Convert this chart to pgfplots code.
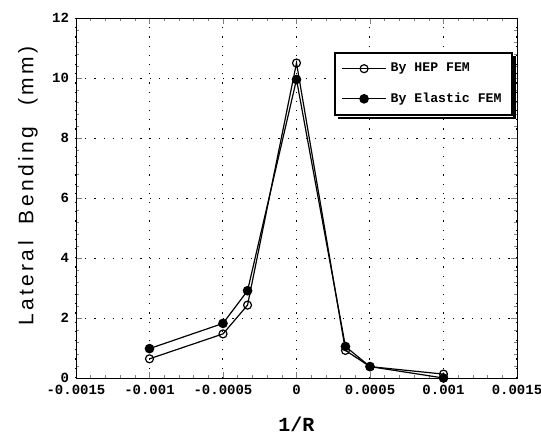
\documentclass[border=0pt]{standalone}
\usepackage{fontspec}
\usepackage{pgfplots}
\pgfplotsset{compat=1.18}
\setmainfont{Liberation Sans}
\newfontfamily\monob{Liberation Mono}
\newfontfamily\labfont{Liberation Sans}[LetterSpace=16]
\begin{document}
\begin{tikzpicture}
\path[use as bounding box] (-38pt,-31.5pt) rectangle (232.5pt,189pt);
\begin{axis}[
  at={(0,0)}, anchor=south west,
  scale only axis, width=220.5pt, height=180pt,
  xmin=-0.0015, xmax=0.0015, ymin=0, ymax=12,
  scaled ticks=false,
  xtick={-0.0015,-0.001,-0.0005,0,0.0005,0.001,0.0015},
  xticklabels={-0.0015,-0.001,-0.0005,0,0.0005,0.001,0.0015},
  ytick={0,2,4,6,8,10,12},
  yticklabels={0,2,4,6,8,10,12},
  minor x tick num=4, minor y tick num=4,
  tick align=inside,
  xtick pos=both, ytick pos=both,
  major tick length=3pt, minor tick length=1.5pt,
  grid=major, major grid style={black, line width=0.5pt, dash pattern=on 0.6pt off 4pt},
  axis line style={line width=0.4pt},
  ticklabel style={font=\monob\bfseries\fontsize{7}{8}\selectfont},
  /pgf/number format/assume math mode=true,
  xlabel={\monob\bfseries\fontsize{10}{12}\selectfont 1/R},
  xlabel style={at={(axis description cs:0.5,-0.13)}, anchor=center},
  ylabel={\labfont\fontsize{10.5}{12}\selectfont Lateral\hspace{4pt} Bending\hspace{6pt} (mm)},
  ylabel style={at={(axis description cs:-0.109,0.533)}, anchor=center},
  legend style={at={(axis description cs:0.99,0.906)}, anchor=north east,
    name=leg,
    draw=black, line width=1pt, fill=white,
    font=\monob\bfseries\fontsize{6.6}{8}\selectfont,
    row sep=5pt, inner sep=3pt},
  legend cell align=left,
  legend image code/.code={
    \draw[#1, line width=0.6pt, mark=none] (0pt,0pt) -- (22pt,0pt);
    \draw[#1, line width=0.6pt, mark repeat=1] plot coordinates {(11pt,0pt)};
  },
]
\addplot[black, line width=0.6pt, mark=o, mark size=2pt, mark options={line width=0.6pt, fill=white}]
  coordinates {(-0.001,0.64) (-0.0005,1.47) (-0.000333,2.43) (0,10.5) (0.000333,0.92) (0.0005,0.38) (0.001,0.13)};
\addlegendentry{By HEP FEM}
\addplot[black, line width=0.6pt, mark=*, mark size=2.1pt]
  coordinates {(-0.001,0.98) (-0.0005,1.82) (-0.000333,2.91) (0,9.95) (0.000333,1.05) (0.0005,0.38) (0.001,0.0)};
\addlegendentry{By Elastic FEM}
\end{axis}
\draw[line width=1.2pt] ([xshift=1pt,yshift=-2pt]leg.north east) -- ([xshift=1pt,yshift=-1pt]leg.south east) -- ([xshift=2pt,yshift=-1pt]leg.south west);
\end{tikzpicture}
\end{document}
